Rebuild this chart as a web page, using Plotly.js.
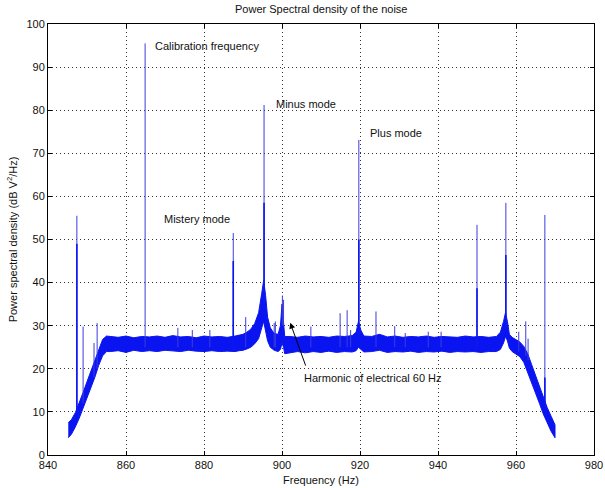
<!DOCTYPE html>
<html>
<head>
<meta charset="utf-8">
<script src="https://cdn.plot.ly/plotly-3.0.1.min.js"></script>
<style>html,body{margin:0;padding:0;background:#fff;}#chart{width:605px;height:488px;}</style>
</head>
<body>
<div id="chart"></div>
<script>
// Noise band envelope (Hz, dB V^2/Hz)
var bandFreq = [845.2, 846, 847, 848, 849, 850, 851, 852, 853, 854, 855, 856, 858, 860, 862, 864, 866, 868, 870, 872, 874, 876, 878, 880, 882, 884, 886, 888, 889, 890, 891, 892, 893, 894, 894.8, 895.3, 895.8, 896.3, 897, 898, 899, 899.6, 900.0, 900.4, 900.7, 902, 904, 906, 908, 910, 912, 914, 916, 918, 919, 919.6, 920.2, 921, 923, 925, 927, 929, 931, 933, 935, 937, 939, 941, 943, 945, 947, 949, 951, 953, 955, 956, 956.8, 957.3, 957.8, 958.3, 959, 960, 961, 962, 963, 964, 965, 966, 967, 968, 969, 970];
var bandHigh = [7.5, 8.2, 9.8, 12.0, 14.5, 17.0, 19.5, 22.0, 24.8, 26.8, 27.6, 27.5, 27.3, 27.6, 27.2, 27.5, 27.4, 27.6, 27.3, 27.7, 27.4, 27.5, 27.2, 27.6, 27.4, 27.5, 27.3, 27.6, 27.8, 28.0, 28.5, 29.2, 30.5, 33.0, 37.5, 40.5, 37.0, 32.0, 29.5, 28.2, 28.0, 30.0, 35.0, 31.0, 27.5, 27.5, 27.3, 27.6, 27.4, 27.5, 27.3, 27.6, 27.5, 27.7, 28.5, 31.0, 29.0, 27.6, 27.5, 28.0, 27.4, 27.6, 27.3, 27.5, 27.4, 27.6, 27.3, 27.5, 27.4, 27.3, 27.6, 27.4, 27.5, 27.3, 27.5, 28.5, 31.0, 33.0, 31.0, 28.0, 27.3, 26.8, 26.2, 25.2, 23.5, 21.0, 18.5, 16.0, 13.0, 11.0, 9.0, 7.0];
var bandLow = [4.0, 4.8, 6.5, 8.5, 11.0, 13.2, 15.5, 18.0, 20.8, 23.0, 24.0, 24.0, 24.2, 23.8, 24.3, 24.0, 24.2, 24.0, 24.3, 24.1, 24.0, 24.3, 24.1, 24.0, 24.2, 24.0, 24.1, 24.0, 24.2, 24.3, 24.6, 25.0, 25.8, 27.0, 29.5, 31.0, 29.0, 26.5, 25.0, 24.3, 24.0, 24.5, 26.0, 25.0, 23.5, 23.8, 24.0, 23.7, 24.0, 23.8, 24.1, 23.8, 24.0, 23.9, 24.2, 25.0, 24.5, 23.9, 24.0, 24.3, 23.8, 24.0, 23.9, 24.1, 23.8, 24.0, 23.9, 24.1, 23.8, 24.0, 23.9, 24.0, 23.8, 24.0, 24.0, 24.5, 26.0, 27.5, 26.5, 24.8, 24.0, 23.5, 22.8, 21.5, 19.5, 17.0, 14.5, 12.0, 9.5, 7.5, 5.5, 4.0];

// Narrow spectral lines (Hz, top dB, base dB, solid core height dB)
var spikeFreq = [847.4, 849.0, 851.8, 852.6, 864.9, 873.3, 877.0, 881.5, 887.5, 890.7, 895.4, 898.0, 898.3, 900.1, 900.4, 907.4, 914.9, 916.7, 917.6, 919.7, 924.1, 928.9, 931.6, 937.5, 940.8, 950.0, 957.4, 960.7, 962.5, 963.1, 967.4];
var spikeTop  = [55.5, 29.8, 26.0, 30.6, 95.5, 29.5, 29.0, 29.0, 51.5, 32.0, 81.2, 30.6, 31.0, 37.0, 36.0, 29.8, 32.9, 33.6, 29.0, 73.1, 33.3, 29.9, 28.3, 28.6, 28.6, 53.4, 58.5, 28.6, 31.0, 27.0, 55.7];
var spikeBase = [10.0, 12.0, 18.0, 20.0, 25.0, 25.0, 25.0, 25.0, 25.0, 25.0, 35.0, 25.0, 25.0, 30.0, 30.0, 25.0, 25.0, 25.0, 25.0, 28.0, 25.0, 25.0, 25.0, 25.0, 25.0, 25.0, 30.0, 24.0, 23.0, 22.0, 9.5];
var coreFreq = [847.4, 887.5, 895.4, 919.7, 950.0, 957.4, 967.4];
var coreTop  = [49.0, 45.0, 58.5, 50.0, 38.7, 46.4, 18.0];
var coreBase = [10.0, 25.0, 35.0, 28.0, 25.0, 30.0, 9.5];

var blue = '#0a14f0';

function segs(fs, lo, hi) {
  var x = [], y = [];
  for (var i = 0; i < fs.length; i++) { x.push(fs[i], fs[i], null); y.push(lo[i], hi[i], null); }
  return {x: x, y: y};
}

var polyX = bandFreq.concat(bandFreq.slice().reverse());
var polyY = bandHigh.concat(bandLow.slice().reverse());

var s1 = segs(spikeFreq, spikeBase, spikeTop);
var s2 = segs(coreFreq, coreBase, coreTop);

var traces = [
  {x: polyX, y: polyY, type: 'scatter', mode: 'lines', fill: 'toself', fillcolor: blue,
   line: {color: blue, width: 1}, hoverinfo: 'skip', showlegend: false},
  {x: s1.x, y: s1.y, type: 'scatter', mode: 'lines', line: {color: '#3c3cdc', width: 1}, showlegend: false, connectgaps: false},
  {x: s2.x, y: s2.y, type: 'scatter', mode: 'lines', line: {color: blue, width: 1.6}, showlegend: false, connectgaps: false}
];

var font = {family: 'Liberation Sans, Arial, sans-serif', size: 11, color: '#111'};

var layout = {
  width: 605, height: 488,
  margin: {l: 48, r: 11, t: 24, b: 33},
  paper_bgcolor: '#fff', plot_bgcolor: '#fff',
  font: font,
  showlegend: false,
  title: {text: 'Power Spectral density of the noise', font: {family: font.family, size: 11, color: '#111'},
          x: 0.531, xanchor: 'center', y: 0.981, yanchor: 'middle', yref: 'container'},
  xaxis: {range: [840, 980], dtick: 20, tick0: 840, ticks: 'inside', ticklen: 4, tickcolor: '#000',
          showline: true, mirror: 'ticks', linecolor: '#000', linewidth: 1,
          showgrid: true, gridcolor: '#333', griddash: '1px,3px', gridwidth: 1, zeroline: false,
          tickfont: font, automargin: false,
          title: {text: 'Frequency (Hz)', font: font, standoff: 6}},
  yaxis: {range: [0, 100], dtick: 10, ticks: 'inside', ticklen: 4, tickcolor: '#000',
          showline: true, mirror: 'ticks', linecolor: '#000', linewidth: 1,
          showgrid: true, gridcolor: '#333', griddash: '1px,3px', gridwidth: 1, zeroline: false,
          tickfont: font, automargin: false,
          title: {text: 'Power spectral density (dB V<sup>2</sup>/Hz)', font: font, standoff: 6}},
  annotations: [
    {x: 866.9, y: 94.9, xref: 'x', yref: 'y', text: 'Calibration frequency', showarrow: false, xanchor: 'left', yanchor: 'middle', font: font},
    {x: 898.0, y: 81.5, xref: 'x', yref: 'y', text: 'Minus mode', showarrow: false, xanchor: 'left', yanchor: 'middle', font: font},
    {x: 922.1, y: 74.6, xref: 'x', yref: 'y', text: 'Plus mode', showarrow: false, xanchor: 'left', yanchor: 'middle', font: font},
    {x: 869.2, y: 54.8, xref: 'x', yref: 'y', text: 'Mistery mode', showarrow: false, xanchor: 'left', yanchor: 'middle', font: font},
    {x: 905.0, y: 17.8, xref: 'x', yref: 'y', text: 'Harmonic of electrical 60 Hz', showarrow: false, xanchor: 'left', yanchor: 'middle', font: font},
    {x: 902.1, y: 30.7, xref: 'x', yref: 'y', ax: 906.2, ay: 20.4, axref: 'x', ayref: 'y', text: '',
     showarrow: true, arrowhead: 2, arrowsize: 1.2, arrowwidth: 1, arrowcolor: '#000'}
  ]
};

Plotly.newPlot('chart', traces, layout, {displayModeBar: false, staticPlot: true});
</script>
</body>
</html>
